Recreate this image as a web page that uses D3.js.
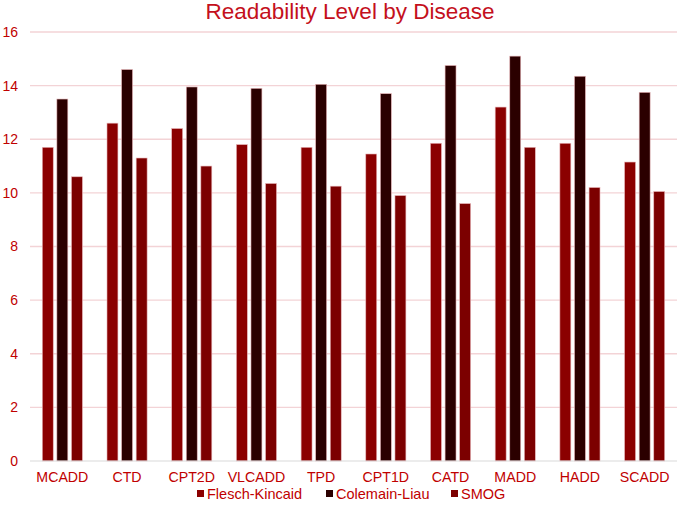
<!DOCTYPE html>
<html>
<head>
<meta charset="utf-8">
<script src="https://cdn.jsdelivr.net/npm/d3@7"></script>
<style>
  body { margin: 0; background: #fff; }
  text { font-family: "Liberation Sans", Arial, sans-serif; }
</style>
</head>
<body>
<div id="chart"></div>
<script>
// values
const diseases = ["MCADD", "CTD", "CPT2D", "VLCADD", "TPD", "CPT1D", "CATD", "MADD", "HADD", "SCADD"];
const seriesNames = ["Flesch-Kincaid", "Colemain-Liau", "SMOG"];
const fleschKincaid = [11.7, 12.6, 12.4, 11.8, 11.7, 11.45, 11.85, 13.2, 11.85, 11.15];
const colemainLiau = [13.5, 14.6, 13.95, 13.9, 14.05, 13.7, 14.75, 15.1, 14.35, 13.75];
const smog = [10.6, 11.3, 11.0, 10.35, 10.25, 9.9, 9.6, 11.7, 10.2, 10.05];
const yTicks = [0, 2, 4, 6, 8, 10, 12, 14, 16];
const colors = ["#8b0000", "#2b0000", "#7c0000"];

const width = 677, height = 507;
const margin = { top: 32, right: 0, bottom: 46, left: 30 };

let svg = d3.select("#chart")
  .append("svg")
  .attr("width", width)
  .attr("height", height);

let x = d3.scaleBand()
  .domain(diseases)
  .range([margin.left, width - margin.right])
  .paddingInner(0.38)
  .paddingOuter(0.19);

let sub = d3.scaleBand()
  .domain(seriesNames)
  .range([0, x.bandwidth()])
  .paddingInner(0.25);

let y = d3.scaleLinear()
  .domain([0, 16])
  .range([height - margin.bottom, margin.top]);

// gridlines
svg.append("g")
  .selectAll("line")
  .data(yTicks.slice(1))
  .enter().append("line")
  .attr("x1", margin.left)
  .attr("x2", width)
  .attr("y1", d => y(d))
  .attr("y2", d => y(d))
  .attr("stroke", "#f3d3d6")
  .attr("stroke-width", 1.3);

// y tick labels
svg.append("g")
  .selectAll("text")
  .data(yTicks)
  .enter().append("text")
  .attr("x", 18)
  .attr("y", d => y(d))
  .attr("dy", "0.35em")
  .attr("text-anchor", "end")
  .attr("fill", "#c00000")
  .style("font-size", "14px")
  .text(d => d);

let data = [fleschKincaid, colemainLiau, smog];

let groups = svg.append("g")
  .selectAll("g")
  .data(diseases)
  .enter().append("g")
  .attr("transform", d => "translate(" + x(d) + ",0)");

groups.selectAll("rect")
  .data((d, i) => seriesNames.map((s, j) => ({ series: s, value: data[j][i], color: colors[j] })))
  .enter().append("rect")
  .attr("x", d => sub(d.series))
  .attr("width", sub.bandwidth())
  .attr("y", d => y(d.value))
  .attr("height", d => y(0) - y(d.value))
  .attr("fill", d => d.color)
  .attr("stroke", "#e8b5b8")
  .attr("stroke-width", 0.6);

// baseline
svg.append("line")
  .attr("x1", margin.left)
  .attr("x2", width)
  .attr("y1", y(0))
  .attr("y2", y(0))
  .attr("stroke", "#d9d9d9")
  .attr("stroke-width", 1);

// category labels
svg.append("g")
  .selectAll("text")
  .data(diseases)
  .enter().append("text")
  .attr("x", d => x(d) + x.bandwidth() / 2)
  .attr("y", 482)
  .attr("text-anchor", "middle")
  .attr("fill", "#c00000")
  .style("font-size", "14.2px")
  .text(d => d);

// title
svg.append("text")
  .attr("x", 350)
  .attr("y", 19)
  .attr("text-anchor", "middle")
  .attr("fill", "#c4101c")
  .style("font-size", "22.5px")
  .text("Readability Level by Disease");

// legend
let legendX = [197, 326, 451];
let legend = svg.append("g")
  .selectAll("g")
  .data(seriesNames)
  .enter().append("g")
  .attr("transform", (d, i) => "translate(" + legendX[i] + ",494)");

legend.append("rect")
  .attr("x", 0)
  .attr("y", -4)
  .attr("width", 7)
  .attr("height", 7)
  .attr("fill", (d, i) => colors[i]);

legend.append("text")
  .attr("x", 10)
  .attr("y", 0)
  .attr("dy", "0.35em")
  .attr("fill", "#c00000")
  .style("font-size", "14.5px")
  .text(d => d);
</script>
</body>
</html>
